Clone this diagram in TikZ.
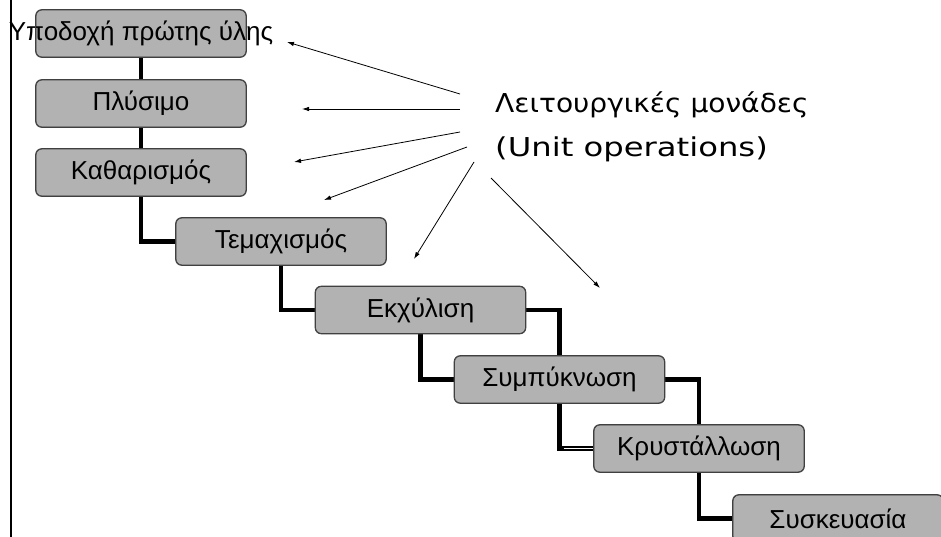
\documentclass[tikz,border=0pt]{standalone}
\usepackage{fontspec}
\setmainfont{Liberation Sans}
\newfontfamily\labfont{DejaVu Sans}
\usetikzlibrary{arrows.meta}
\tikzset{
  opbox/.style={draw=black!75, line width=0.8pt, fill=gray!60, rounded corners=6pt,
    minimum width=210pt, minimum height=47pt, inner sep=0pt, font=\fontsize{26}{28}\selectfont},
  link/.style={line width=4.5pt, black},
  pointer/.style={line width=0.8pt, -{Latex[length=7pt,width=4.5pt]}},
  lab/.style={anchor=base west, inner sep=0pt, font=\labfont\fontsize{26}{28}\selectfont}
}
\begin{document}
\begin{tikzpicture}[x=1pt,y=-1pt]
\useasboundingbox (0,0) rectangle (941,537);
\clip (0,0) rectangle (941,537);
\fill[white] (0,0) rectangle (941,537);
% left rule
\coordinate (lt) at (11,0);
\coordinate (lb) at (11,537);
\draw[line width=2.5pt] (lt) -- (lb);
% boxes
\node[opbox] (b1) at (141,33.5) {\makebox[0pt]{Υποδοχή πρώτης ύλης}};
\node[opbox] (b2) at (141,103.5) {Πλύσιμο};
\node[opbox] (b3) at (141,172.5) {Καθαρισμός};
\node[opbox] (b4) at (281,241.5) {Τεμαχισμός};
\node[opbox] (b5) at (420.5,310) {Εκχύλιση};
\node[opbox] (b6) at (559.5,379.5) {Συμπύκνωση};
\node[opbox] (b7) at (699,448.5) {Κρυστάλλωση};
\node[opbox] (b8) at (838,518.5) {Συσκευασία};
% connectors
\draw[link] (b1.south) -- (b2.north);
\draw[link] (b2.south) -- (b3.north);
\draw[link] (b3.south) |- (b4.west);
\draw[link] (b4.south) |- (b5.west);
\draw[link] (b5.south) |- (b6.west);
\draw[link] (b6.south) |- (b7.west);
\draw[white, line width=1pt] ([xshift=-30pt]b7.west) -- (b7.west);
\draw[link] (b7.south) |- (b8.west);
\draw[link] (b5.east) -| (b6.north);
\draw[link] (b6.east) -| (b7.north);
% redraw box outlines over the connector ends
\foreach \n in {b1,b2,b3,b4,b5,b6,b7,b8}{
  \draw[draw=black!75, line width=0.8pt, rounded corners=6pt] (\n.north west) rectangle (\n.south east);
}
% label
\node[lab] (t1) at (495,113) {\scalebox{1.08}[1]{Λειτουργικές μονάδες}};
\node[lab] (t2) at (495,157) {\scalebox{1.24}[1]{(Unit operations)}};
% pointers
\coordinate (s1) at (460,94);   \coordinate (e1) at (287,42);
\coordinate (s2) at (460,109);  \coordinate (e2) at (302,109);
\coordinate (s3) at (460,132);  \coordinate (e3) at (294,162);
\coordinate (s4) at (467,147);  \coordinate (e4) at (324,200);
\coordinate (s5) at (474,162);  \coordinate (e5) at (414,259);
\coordinate (s6) at (491,178);  \coordinate (e6) at (600,288);
\draw[pointer] (s1) -- (e1);
\draw[pointer] (s2) -- (e2);
\draw[pointer] (s3) -- (e3);
\draw[pointer] (s4) -- (e4);
\draw[pointer] (s5) -- (e5);
\draw[pointer] (s6) -- (e6);
\end{tikzpicture}
\end{document}
